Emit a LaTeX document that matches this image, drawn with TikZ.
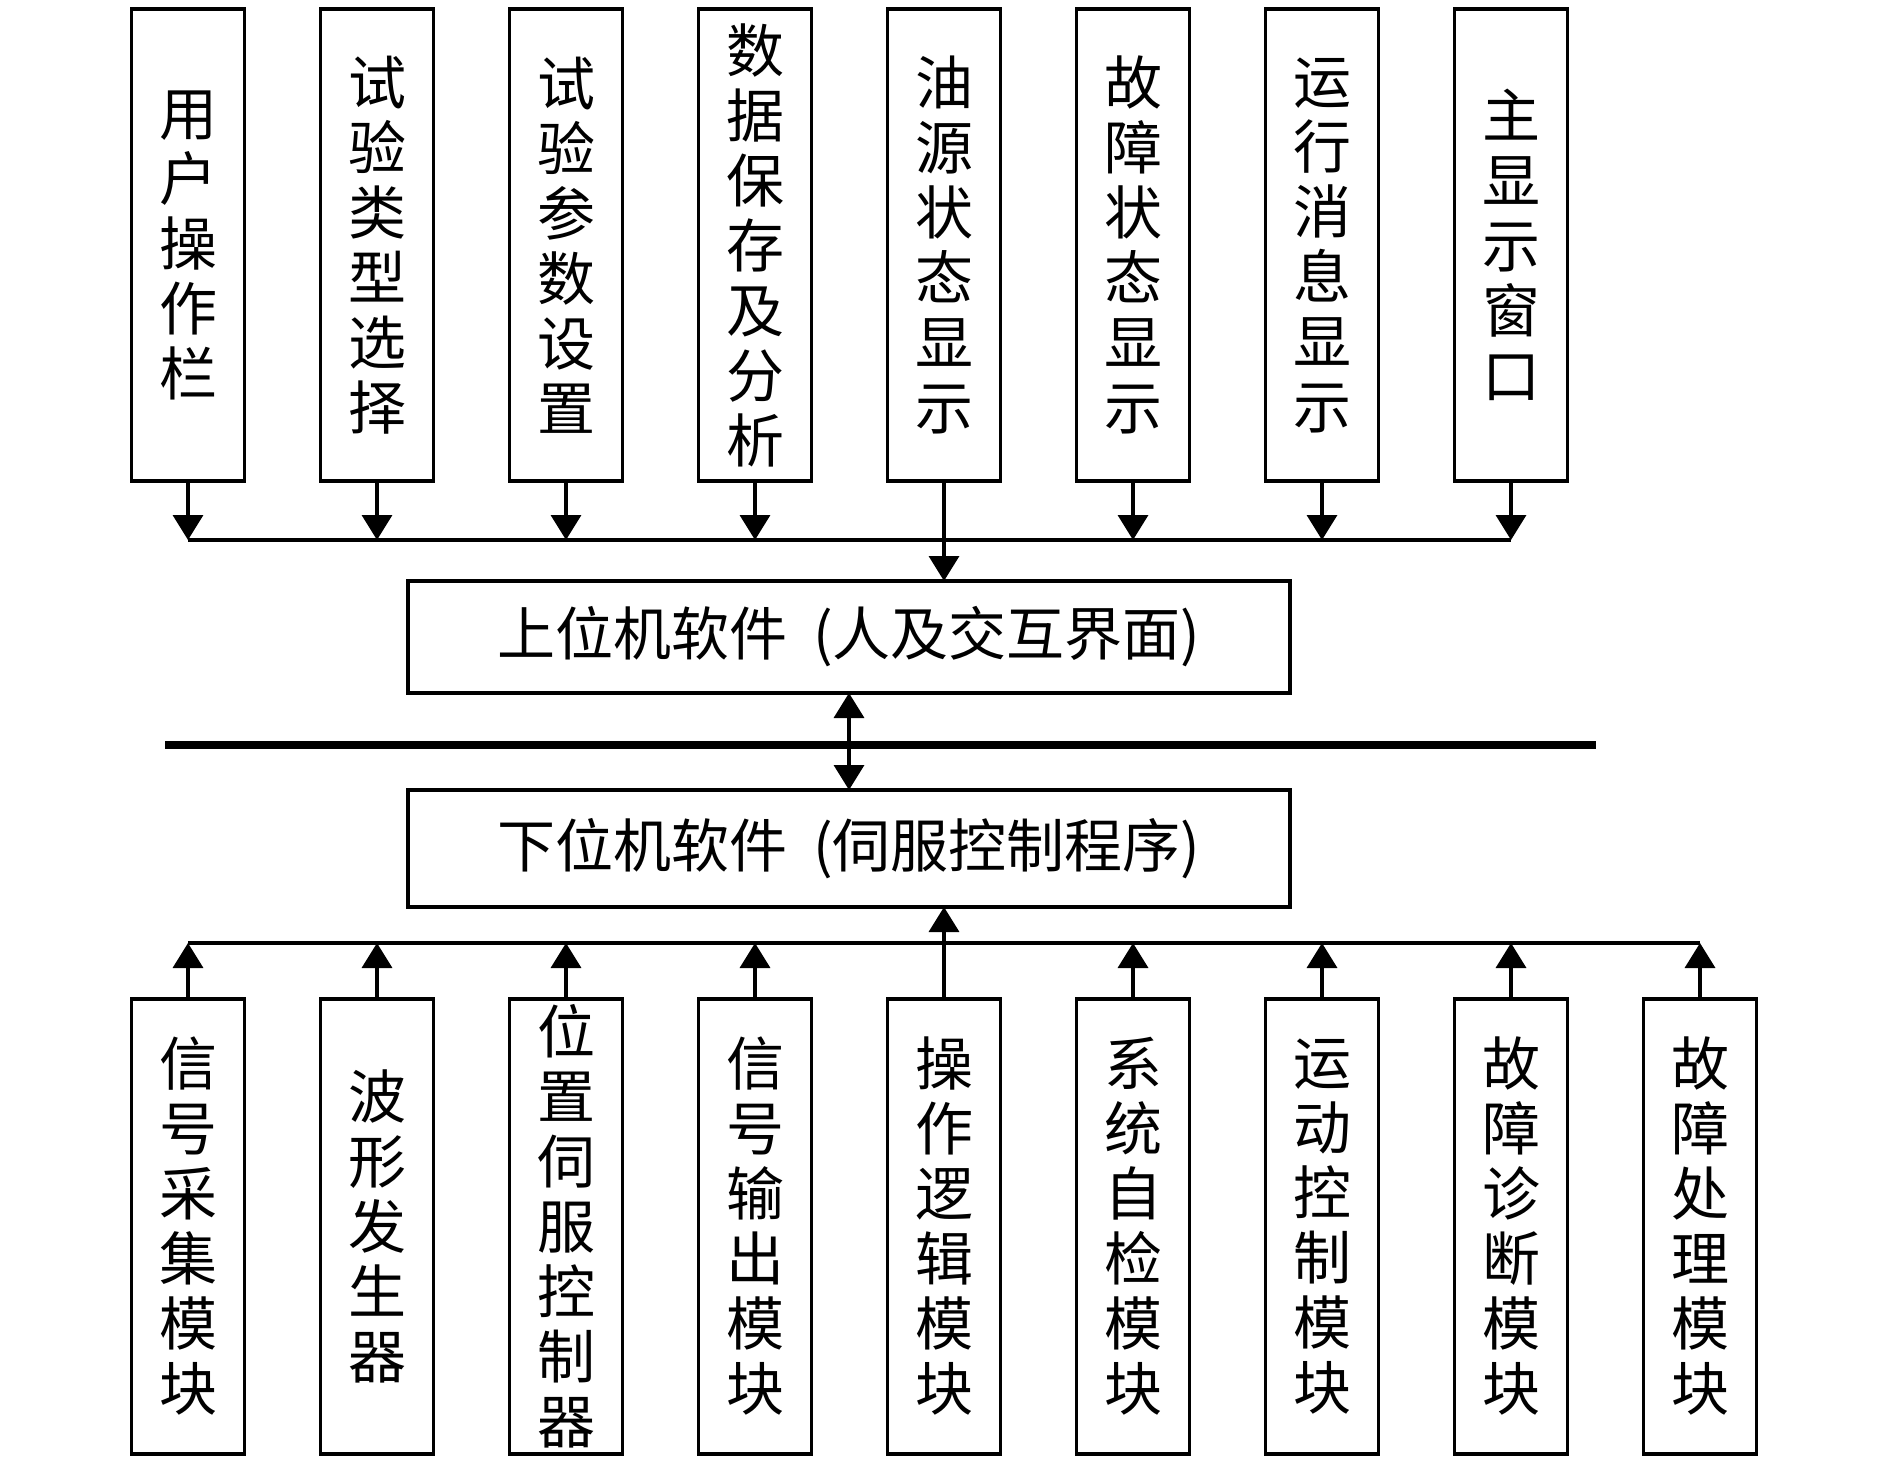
\documentclass[tikz,border=0pt]{standalone}
\usepackage{fontspec}
\newfontfamily\cjk{Noto Sans CJK SC}
\usetikzlibrary{arrows.meta, positioning, calc}

\begin{document}
\begin{tikzpicture}[x=0.5pt, y=-0.5pt, >={Triangle[length=12.5pt, width=15pt]}, node distance=38pt]
    \tikzstyle{tall} = [draw, line width=1.75pt, minimum width=56.5pt, inner sep=0pt,
	outer sep=0pt, align=center, font=\cjk\fontsize{29}{32.5}\selectfont]
    \tikzstyle{upbox} = [tall, minimum height=236pt]
    \tikzstyle{downbox} = [tall, minimum height=227.5pt]
    \tikzstyle{wide} = [draw, line width=1.75pt, minimum width=441pt,
	outer sep=0pt, font=\cjk\fontsize{29}{32.5}\selectfont]
    \tikzstyle{link} = [->, line width=1.75pt]

	\useasboundingbox (0,0) rectangle (1890,1465);

	% upper row
	\path
		node[upbox] (t1) at (188,245) {用\\户\\操\\作\\栏}
		node[upbox, right=of t1] (t2) {试\\验\\类\\型\\选\\择}
		node[upbox, right=of t2] (t3) {试\\验\\参\\数\\设\\置}
		node[upbox, right=of t3] (t4) {数\\据\\保\\存\\及\\分\\析}
		node[upbox, right=of t4] (t5) {油\\源\\状\\态\\显\\示}
		node[upbox, right=of t5] (t6) {故\\障\\状\\态\\显\\示}
		node[upbox, right=of t6] (t7) {运\\行\\消\\息\\显\\示}
		node[upbox, right=of t7] (t8) {主\\显\\示\\窗\\口}

		node[wide, minimum height=56pt] (up) at (849,637) {上位机软件\hspace{0.45em}(人及交互界面)}
		node[wide, minimum height=58.5pt] (lo) at (849,848.5) {下位机软件\hspace{0.45em}(伺服控制程序)}

	% lower row
		node[downbox] (b1) at (188,1226.5) {信\\号\\采\\集\\模\\块}
		node[downbox, right=of b1] (b2) {波\\形\\发\\生\\器}
		node[downbox, right=of b2] (b3) {位\\置\\伺\\服\\控\\制\\器}
		node[downbox, right=of b3] (b4) {信\\号\\输\\出\\模\\块}
		node[downbox, right=of b4] (b5) {操\\作\\逻\\辑\\模\\块}
		node[downbox, right=of b5] (b6) {系\\统\\自\\检\\模\\块}
		node[downbox, right=of b6] (b7) {运\\动\\控\\制\\模\\块}
		node[downbox, right=of b7] (b8) {故\\障\\诊\\断\\模\\块}
		node[downbox, right=of b8] (b9) {故\\障\\处\\理\\模\\块}
	;

	\coordinate (busT) at (0,540);
	\coordinate (busB) at (0,943);
	\coordinate (thL) at (165,745);
	\coordinate (thR) at (1596,745);

	\draw[line width=1.75pt] (t1 |- busT) -- (t8 |- busT);
	\draw[line width=1.75pt] (b1 |- busB) -- (b9 |- busB);
	\draw[line width=4pt] (thL) -- (thR);

	\path[link]
		(t1) edge (t1 |- busT)
		(t2) edge (t2 |- busT)
		(t3) edge (t3 |- busT)
		(t4) edge (t4 |- busT)
		(t5) edge (t5 |- up.north)
		(t6) edge (t6 |- busT)
		(t7) edge (t7 |- busT)
		(t8) edge (t8 |- busT)

		(up) edge[<->] (lo)

		(b1) edge (b1 |- busB)
		(b2) edge (b2 |- busB)
		(b3) edge (b3 |- busB)
		(b4) edge (b4 |- busB)
		(b5) edge (b5 |- lo.south)
		(b6) edge (b6 |- busB)
		(b7) edge (b7 |- busB)
		(b8) edge (b8 |- busB)
		(b9) edge (b9 |- busB)
	;
\end{tikzpicture}
\end{document}
